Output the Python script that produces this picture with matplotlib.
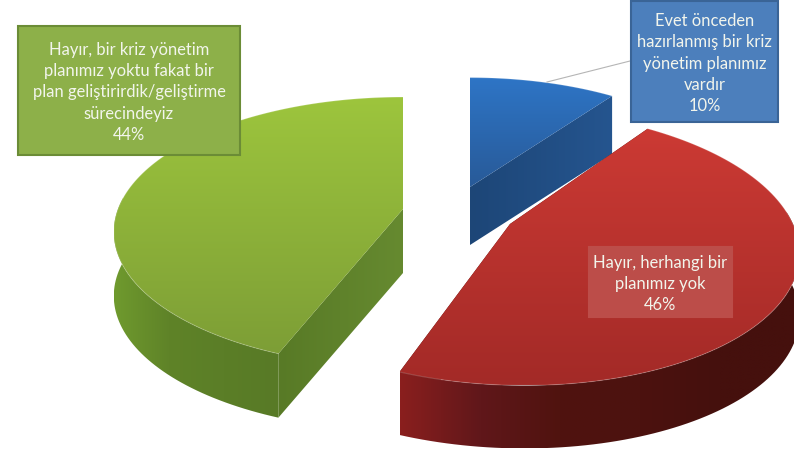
import numpy as np
import matplotlib
matplotlib.use('Agg')
import matplotlib.pyplot as plt
from matplotlib.patches import Polygon, Rectangle

plt.rcParams['font.family'] = ['Lato', 'DejaVu Sans']

# Data, clockwise from the top of the pie
values = [10, 46, 44]
categories = [
    'Evet önceden\nhazırlanmış bir kriz\nyönetim planımız\nvardır',
    'Hayır, herhangi bir\nplanımız yok',
    'Hayır, bir kriz yönetim\nplanımız yoktu fakat bir\nplan geliştirirdik/geliştirme\nsürecindeyiz',
]

# Where each exploded slice sits on the page (center x, center y, rx, ry, shear, depth)
layout = [
    (470, 188, 275, 128, 0, 58),
    (510, 225, 283, 134, -12, 63),
    (403, 210, 285, 131, 0, 64),
]
persp = 0.17

# colours: top face (upper, lower), outer wall stops, cut wall stops
top_cols = [('#2E75C6', '#285A98'), ('#CC3A34', '#A32A27'), ('#9DC53D', '#7D9E36')]
wall_cols = [['#1D4676', '#1D4676'],
             ['#8A1F1E', '#60171A', '#50130F', '#4C120F', '#45100D', '#45100D'],
             ['#6F9A2E', '#5F8328', '#5B7E27', '#587A26']]
cut_cols = [['#1D4677', '#25558F'], ['#50130F', '#50130F'], ['#587A26', '#668A30']]

# label boxes (x0, y0, x1, y1) and their fills
boxes = [(631, 2, 778, 123), (589, 248, 732, 318), (18, 27, 240, 156)]
box_cols = ['#4C7FBC', '#BC4D49', '#8DB049']
box_edges = ['#3A6496', '#BC4D49', '#6B8C36']
line_gap = 1.42


def project(theta, lay):
    cx, cy, rx, ry, sh, d = lay
    u, v = np.sin(theta), np.cos(theta)
    s = 1 / (1 + persp * v)
    return np.column_stack([cx + (rx * u + sh * v) * s, cy - ry * v * s])


def grad_fill(ax, pts, stops, horizontal=False, z=2):
    x0, y0 = pts.min(axis=0)
    x1, y1 = pts.max(axis=0)
    rgb = np.array([matplotlib.colors.to_rgb(c) for c in stops])
    t = np.linspace(0, 1, 256)
    pos = np.linspace(0, 1, len(stops))
    arr = np.column_stack([np.interp(t, pos, rgb[:, i]) for i in range(3)])
    arr = arr[None, :, :] if horizontal else arr[:, None, :]
    im = ax.imshow(arr, extent=(x0, x1, y1, y0), aspect='auto', zorder=z,
                   interpolation='bilinear')
    im.set_clip_path(Polygon(pts, closed=True, transform=ax.transData))


def wall(a, b, depth):
    return np.vstack([a, b, b[::-1] + [0, depth], a[::-1] + [0, depth]])


fig = plt.figure(figsize=(7.94, 4.56), dpi=100)
ax = fig.add_axes([0, 0, 1, 1])
ax.axis('off')

# slices, cumulative angle comes from the values
edges = np.deg2rad(np.cumsum([0] + values) * 3.6)
for i in [0, 2, 1]:
    lay = layout[i]
    depth = lay[5]
    centre = np.array([[lay[0], lay[1]]], dtype=float)
    theta = np.linspace(edges[i], edges[i + 1], 120)
    arc = project(theta, lay)
    z = 2 + [0, 2, 1][i] * 3

    for end in (arc[:1], arc[-1:]):
        pts = wall(centre, end, depth)
        if np.ptp(pts[:, 0]) > 3:
            grad_fill(ax, pts, cut_cols[i], horizontal=True, z=z)
    # only the front of the rim shows a wall
    front = arc[np.cos(theta) < 0.1]
    if len(front) > 1:
        grad_fill(ax, np.vstack([front, front[::-1] + [0, depth]]), wall_cols[i], horizontal=True, z=z + 0.5)
    grad_fill(ax, np.vstack([centre, arc]), top_cols[i], z=z + 1)
    ax.plot(arc[:, 0], arc[:, 1], color='white', alpha=0.18, lw=0.8, zorder=z + 1.2)

# leader line of the blue slice
ax.plot([547, 630], [83, 62], color='#B5B5B5', lw=0.8, zorder=12)

# labels
for i in range(3):
    x0, y0, x1, y1 = boxes[i]
    ax.add_patch(Rectangle((x0, y0), x1 - x0, y1 - y0, facecolor=box_cols[i],
                           edgecolor=box_edges[i], lw=1.5, zorder=13))
    ax.text((x0 + x1) / 2, (y0 + y1) / 2 + 1, '%s\n%d%%' % (categories[i], values[i]),
            ha='center', va='center', color='#F2F5EC', fontsize=11.9,
            linespacing=line_gap, zorder=14)

ax.set_xlim(0, 794)
ax.set_ylim(456, 0)

fig.savefig('out.png', dpi=100, facecolor='white')
